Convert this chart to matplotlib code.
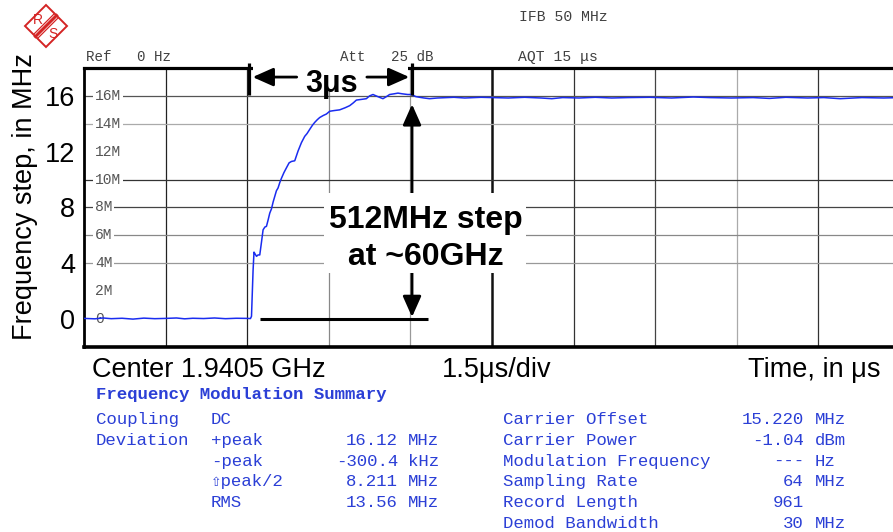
import numpy as np
import matplotlib.pyplot as plt
from matplotlib.patches import Polygon, Rectangle

# FM step response (time in us, step in MHz)
t_us = [0.0, 0.2, 0.35, 0.5, 0.7, 0.9, 1.1, 1.3, 1.5, 1.7, 1.85, 2.0, 2.2,
        2.4, 2.6, 2.8, 3.0, 3.06,
        3.079, 3.108, 3.125, 3.140, 3.171, 3.200, 3.231, 3.262, 3.292, 3.325,
        3.354, 3.384, 3.415, 3.446, 3.477, 3.507, 3.537, 3.567, 3.600, 3.630,
        3.675, 3.722, 3.770, 3.813, 3.874, 3.935, 3.997, 4.057, 4.100, 4.149,
        4.200, 4.241, 4.290, 4.333, 4.400, 4.456, 4.517, 4.600, 4.700, 4.800,
        4.884, 4.950, 5.007, 5.100, 5.190, 5.250, 5.312, 5.400, 5.495, 5.560,
        5.618, 5.700, 5.771, 5.850, 5.950, 6.016, 6.100, 6.169, 6.250, 6.352,
        6.5, 6.8, 7.0, 7.3, 7.5, 7.8, 8.1, 8.4, 8.6, 8.8, 9.1, 9.4, 9.7, 10.0,
        10.4, 10.8, 11.2, 11.5, 11.9, 12.3, 12.6, 12.9, 13.3, 13.6, 13.9, 14.3,
        14.7, 15.0]
f_mhz = [0.05, 0.02, 0.08, 0.03, 0.06, 0.0, 0.07, 0.03, 0.05, 0.08, 0.02, 0.06,
         0.04, 0.08, 0.03, 0.06, 0.05, 0.04,
         0.2, 3.5, 4.8, 4.7, 4.5, 4.6, 4.6, 5.5, 6.4, 6.6,
         6.65, 7.1, 7.6, 7.9, 8.4, 8.8, 9.2, 9.4, 9.8, 10.1,
         10.5, 10.85, 11.2, 11.3, 11.35, 12.05, 12.65, 13.1, 13.3, 13.6,
         13.9, 14.1, 14.3, 14.45, 14.6, 14.7, 14.9, 14.95, 15.0, 15.15,
         15.3, 15.5, 15.7, 15.75, 15.8, 16.0, 16.1, 15.95, 15.8, 15.95,
         16.1, 16.15, 16.2, 16.15, 16.1, 16.1, 15.95, 15.9, 15.85, 15.8,
         15.85, 15.9, 15.85, 15.9, 15.88, 15.85, 15.9, 15.85, 15.8, 15.88, 15.85,
         15.9, 15.85, 15.88, 15.9, 15.85, 15.92, 15.88, 15.85, 15.88, 15.82,
         15.9, 15.85, 15.88, 15.8, 15.88, 15.85, 15.88]

y_ticks = [0, 4, 8, 12, 16]
inner_vals = [16, 14, 12, 10, 8, 6, 4, 2, 0]
inner_labels = ['16M', '14M', '12M', '10M', '8M', '6M', '4M', '2M', '0']

left_rows = [('Coupling', 'DC', '', ''),
             ('Deviation', '+peak', '16.12', 'MHz'),
             ('', '-peak', '-300.4', 'kHz'),
             ('', '\u21e7peak/2', '8.211', 'MHz'),
             ('', 'RMS', '13.56', 'MHz')]
right_rows = [('Carrier Offset', '15.220', 'MHz'),
              ('Carrier Power', '-1.04', 'dBm'),
              ('Modulation Frequency', '---', 'Hz'),
              ('Sampling Rate', '64', 'MHz'),
              ('Record Length', '961', ''),
              ('Demod Bandwidth', '30', 'MHz')]

step_start = 3.03   # us, marker lines for the 3us settling annotation
step_end = 6.03

W, H = 893, 532
def fx(x):
    return x / W
def fy(y):
    return 1 - y / H

plt.rcParams['font.family'] = ['Liberation Sans', 'DejaVu Sans']
mono = ['Liberation Mono', 'DejaVu Sans Mono', 'DejaVu Sans']
blue = '#2b3fd6'
hdr = '#404040'

fig = plt.figure(figsize=(W / 100, H / 100), dpi=100)
fig.patch.set_facecolor('white')

# plot box runs past the right edge of the picture, like the scan
ax = fig.add_axes([fx(84), fy(347), (900 - 84) / W, (347 - 68) / H])
ax.set_xlim(0, 15)
ax.set_ylim(-2, 18)
ax.set_xticks([])
ax.set_yticks(y_ticks)
ax.tick_params(axis='y', length=0, pad=6.5, labelsize=19.5)
ax.spines['top'].set_linewidth(2.3)
ax.spines['bottom'].set_linewidth(2.6)
ax.spines['left'].set_linewidth(2.0)
ax.spines['right'].set_visible(False)
ax.set_ylabel('Frequency step, in MHz', fontsize=19.5)
ax.yaxis.set_label_coords(-0.056, 0.538)

# graticule
vgrid = [(1.5, '#222222', 0.9), (3.0, '#222222', 0.9), (4.5, '#888888', 0.9),
         (6.0, '#999999', 0.9), (7.5, '#111111', 1.8), (9.0, '#333333', 0.9),
         (10.5, '#444444', 0.9), (12.0, '#aaaaaa', 0.9), (13.5, '#333333', 0.9)]
for xv, c, lw in vgrid:
    ax.axvline(xv, color=c, lw=lw, zorder=1)
hgrid = [(16, '#555555'), (14, '#aaaaaa'), (10, '#333333'), (8, '#444444'),
         (6, '#888888'), (4, '#999999')]
for yv, c in hgrid:
    ax.axhline(yv, color=c, lw=0.9, zorder=1)

for yv, lab in zip(inner_vals, inner_labels):
    ax.text(0.2, yv, lab, family=mono, fontsize=10.5, color='#555555',
            ha='left', va='center', zorder=2,
            bbox=dict(facecolor='white', edgecolor='none', pad=1.0))

ax.plot(t_us, f_mhz, color='#1a2cf0', lw=1.1, zorder=3)

# annotations
ax.add_patch(Rectangle((3.1, 16.42), 2.85, 2.0, facecolor='white',
                       edgecolor='none', zorder=3, clip_on=False))
for xv in (step_start, step_end):
    ax.plot([xv, xv], [18.38, 16.1], color='black', lw=2.3, zorder=4,
            clip_on=False, solid_capstyle='butt')
aprops = dict(arrowstyle='-|>,head_length=0.9,head_width=0.4', color='black',
              lw=2.0, mutation_scale=14, shrinkA=0, shrinkB=0)
ax.annotate('', xy=(3.10, 17.35), xytext=(3.91, 17.35), arrowprops=aprops,
            zorder=4, annotation_clip=False)
ax.annotate('', xy=(5.98, 17.35), xytext=(5.20, 17.35), arrowprops=aprops,
            zorder=4, annotation_clip=False)
ax.text(4.55, 16.28, '3\u03bcs', fontsize=22, fontweight='bold', ha='center',
        va='baseline', zorder=5)

ax.plot([3.23, 6.32], [0, 0], color='black', lw=2.2, zorder=4,
        solid_capstyle='butt')
ax.annotate('', xy=(step_end, 15.4), xytext=(step_end, 8), arrowprops=aprops,
            zorder=4)
ax.annotate('', xy=(step_end, 0.15), xytext=(step_end, 8), arrowprops=aprops,
            zorder=4)
ax.add_patch(Rectangle((4.42, 3.30), 3.71, 5.74, facecolor='white',
                       edgecolor='none', zorder=4.5))
ax.text(6.28, 6.53, '512MHz step', fontsize=23, fontweight='bold',
        ha='center', va='baseline', zorder=5)
ax.text(6.28, 3.88, 'at ~60GHz', fontsize=23, fontweight='bold',
        ha='center', va='baseline', zorder=5)

# analyzer header
fig.text(fx(86), fy(61), 'Ref   0 Hz', family=mono, fontsize=10.2, color=hdr)
fig.text(fx(340), fy(61), 'Att   25 dB', family=mono, fontsize=10.2, color=hdr)
fig.text(fx(518), fy(61), 'AQT 15 \u03bcs', family=mono, fontsize=10.6, color=hdr)
fig.text(fx(519), fy(21), 'IFB 50 MHz', family=mono, fontsize=10.6, color=hdr)

# x axis captions
fig.text(fx(92), fy(377), 'Center 1.9405 GHz', fontsize=19.5)
fig.text(fx(442), fy(377), '1.5\u03bcs/div', fontsize=19.5)
fig.text(fx(880), fy(377), 'Time, in \u03bcs', fontsize=19.5, ha='right')

# summary table
fig.text(fx(96), fy(399), 'Frequency Modulation Summary', family=mono,
         fontsize=12.5, fontweight='bold', color=blue)
for i, (a, b, v, u) in enumerate(left_rows):
    yb = fy(424 + 20.8 * i)
    fig.text(fx(96), yb, a, family=mono, fontsize=12.5, color=blue)
    fig.text(fx(211), yb, b, family=mono, fontsize=12.5, color=blue)
    fig.text(fx(398), yb, v, family=mono, fontsize=12.5, color=blue, ha='right')
    fig.text(fx(408), yb, u, family=mono, fontsize=12.5, color=blue)
for i, (a, v, u) in enumerate(right_rows):
    yb = fy(424 + 20.8 * i)
    fig.text(fx(503), yb, a, family=mono, fontsize=12.5, color=blue)
    fig.text(fx(804), yb, v, family=mono, fontsize=12.5, color=blue, ha='right')
    fig.text(fx(815), yb, u, family=mono, fontsize=12.5, color=blue)

# R&S logo
lg = fig.add_axes([fx(22), fy(50), 48 / W, 48 / H])
lg.set_xlim(0, 48)
lg.set_ylim(0, 48)
lg.axis('off')
red = '#d42424'
lg.add_patch(Polygon([(24, 45), (45, 24), (24, 3), (3, 24)], closed=True,
                     facecolor='none', edgecolor=red, lw=1.4))
lg.plot([13.5, 34.5], [13.5, 34.5], color=red, lw=2.2)
lg.plot([11.5, 32.5], [15.5, 36.5], color=red, lw=0.9)
lg.plot([15.5, 36.5], [11.5, 32.5], color=red, lw=0.9)
lg.text(16, 30, 'R', color=red, fontsize=10, ha='center', va='center')
lg.text(31, 16, 'S', color=red, fontsize=10, ha='center', va='center')

fig.savefig('out.png', dpi=100)
